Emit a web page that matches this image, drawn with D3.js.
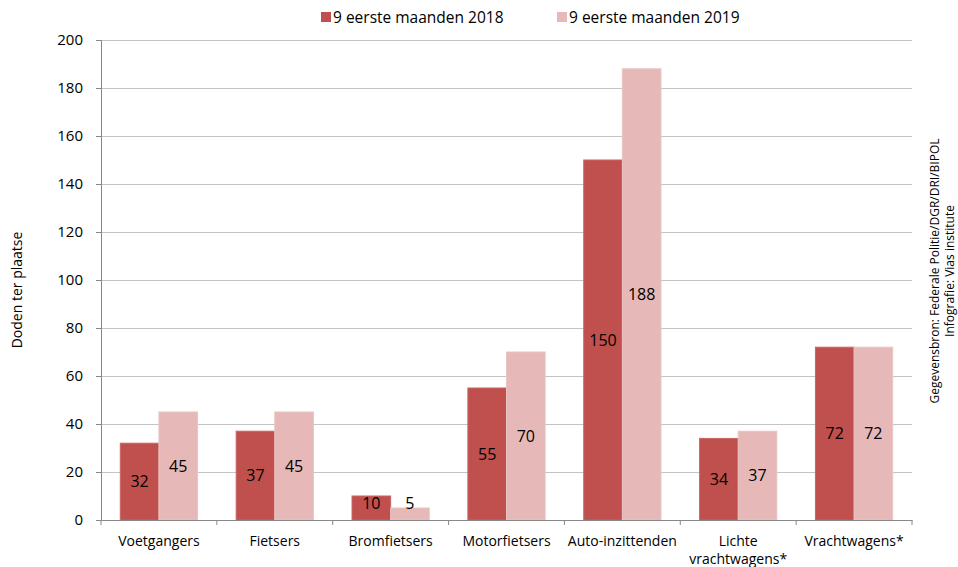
<!DOCTYPE html>
<meta charset="utf-8">
<script src="https://d3js.org/d3.v7.min.js"></script>
<style>
  body { margin: 0; background: #fff; }
  text { font-family: "Open Sans", sans-serif; fill: #000; }
</style>
<div id="my_dataviz"></div>
<script>

// data
var categories = ["Voetgangers", "Fietsers", "Bromfietsers", "Motorfietsers", "Auto-inzittenden", "Lichte vrachtwagens*", "Vrachtwagens*"];
var catLines = [["Voetgangers"], ["Fietsers"], ["Bromfietsers"], ["Motorfietsers"], ["Auto-inzittenden"], ["Lichte", "vrachtwagens*"], ["Vrachtwagens*"]];
var series = ["9 eerste maanden 2018", "9 eerste maanden 2019"];
var values2018 = [32, 37, 10, 55, 150, 34, 72];
var values2019 = [45, 45, 5, 70, 188, 37, 72];
var yTicks = [0, 20, 40, 60, 80, 100, 120, 140, 160, 180, 200];
var colors = ["#C0504D", "#E6B9B8"];
var borders = ["#C96562", "#EAC3C2"];

var W = 958, H = 567;
var margin = {top: 40, right: 46, bottom: 47, left: 101},
    width = W - margin.left - margin.right,
    height = H - margin.top - margin.bottom;

var svg = d3.select("#my_dataviz")
  .append("svg")
    .attr("width", W)
    .attr("height", H);

var g = svg.append("g")
    .attr("transform", "translate(" + margin.left + "," + margin.top + ")");

var x = d3.scaleBand()
  .domain(categories)
  .range([0, width])
  .paddingInner(0)
  .paddingOuter(0);

// two bars per category, gap of one bar width
var xs = d3.scaleBand()
  .domain([0, 1])
  .range([x.bandwidth() / 6, x.bandwidth() * 5 / 6]);

var y = d3.scaleLinear()
  .domain([0, 200])
  .range([height, 0]);

// gridlines
g.append("g")
  .selectAll("line")
  .data(yTicks.slice(1))
  .enter().append("line")
    .attr("x1", 0).attr("x2", width)
    .attr("y1", function(d) { return y(d) + 0.5 })
    .attr("y2", function(d) { return y(d) + 0.5 })
    .attr("stroke", "#C4C4C4")
    .attr("stroke-width", 1.2);

// bars
var rows = categories.map(function(c, i) {
  return {cat: c, vals: [values2018[i], values2019[i]]};
});

var groups = g.selectAll(".grp")
  .data(rows)
  .enter().append("g")
    .attr("transform", function(d) { return "translate(" + x(d.cat) + ",0)" });

groups.selectAll("rect")
  .data(function(d) { return d.vals.map(function(v, j) { return {v: v, j: j} }) })
  .enter().append("rect")
    .attr("x", function(d) { return xs(d.j) })
    .attr("width", xs.bandwidth())
    .attr("y", function(d) { return y(d.v) })
    .attr("height", function(d) { return y(0) - y(d.v) })
    .attr("fill", function(d) { return colors[d.j] })
    .attr("stroke", function(d) { return borders[d.j] })
    .attr("stroke-width", 1);

groups.selectAll(".lbl")
  .data(function(d) { return d.vals.map(function(v, j) { return {v: v, j: j} }) })
  .enter().append("text")
    .attr("class", "lbl")
    .attr("x", function(d) { return xs(d.j) + xs.bandwidth() / 2 })
    .attr("y", function(d) { return Math.min((y(d.v) + y(0)) / 2, y(0) - 17) })
    .attr("dy", "0.36em")
    .attr("text-anchor", "middle")
    .style("font-size", "16px")
    .text(function(d) { return d.v });

// y axis
var yAxis = g.append("g")
  .call(d3.axisLeft(y).tickValues(yTicks).tickSize(5).tickPadding(13));
yAxis.select(".domain").attr("stroke", "#888");
yAxis.selectAll(".tick line").attr("stroke", "#888");
yAxis.selectAll(".tick text").style("font-size", "15px").style("font-family", "Open Sans");

// x axis
var xAxis = g.append("g")
  .attr("transform", "translate(0," + height + ")")
  .call(d3.axisBottom(x).tickSize(0).tickFormat(""));
xAxis.select(".domain").attr("stroke", "#888");

g.append("g")
  .selectAll("line")
  .data(d3.range(categories.length + 1))
  .enter().append("line")
    .attr("x1", function(i) { return i * x.step() })
    .attr("x2", function(i) { return i * x.step() })
    .attr("y1", height).attr("y2", height + 5)
    .attr("stroke", "#888");

// category labels, one text per line
rows.forEach(function(d, i) {
  catLines[i].forEach(function(line, k) {
    g.append("text")
      .attr("x", x(d.cat) + x.bandwidth() / 2)
      .attr("y", height + 26 + k * 18)
      .attr("text-anchor", "middle")
      .style("font-size", "14px")
      .text(line);
  });
});

// y axis title
svg.append("text")
  .attr("transform", "translate(22," + (margin.top + height / 2 + 10) + ") rotate(-90)")
  .attr("text-anchor", "middle")
  .style("font-size", "14px")
  .text("Doden ter plaatse");

// legend
var legX = [321, 557];
series.forEach(function(s, i) {
  svg.append("rect")
    .attr("x", legX[i]).attr("y", 12)
    .attr("width", 10).attr("height", 10)
    .attr("fill", colors[i]);
  svg.append("text")
    .attr("x", legX[i] + 12).attr("y", 17)
    .attr("dy", "0.36em")
    .style("font-size", "15.5px")
    .text(s);
});

// source
var src = svg.append("text")
  .attr("transform", "translate(939,271) rotate(-90)")
  .attr("text-anchor", "middle")
  .style("font-size", "12px");
src.append("tspan").attr("x", 0).attr("dy", 0).text("Gegevensbron: Federale Politie/DGR/DRI/BIPOL");
src.append("tspan").attr("x", 0).attr("dy", 15).text("Infografie: Vias institute");

</script>
